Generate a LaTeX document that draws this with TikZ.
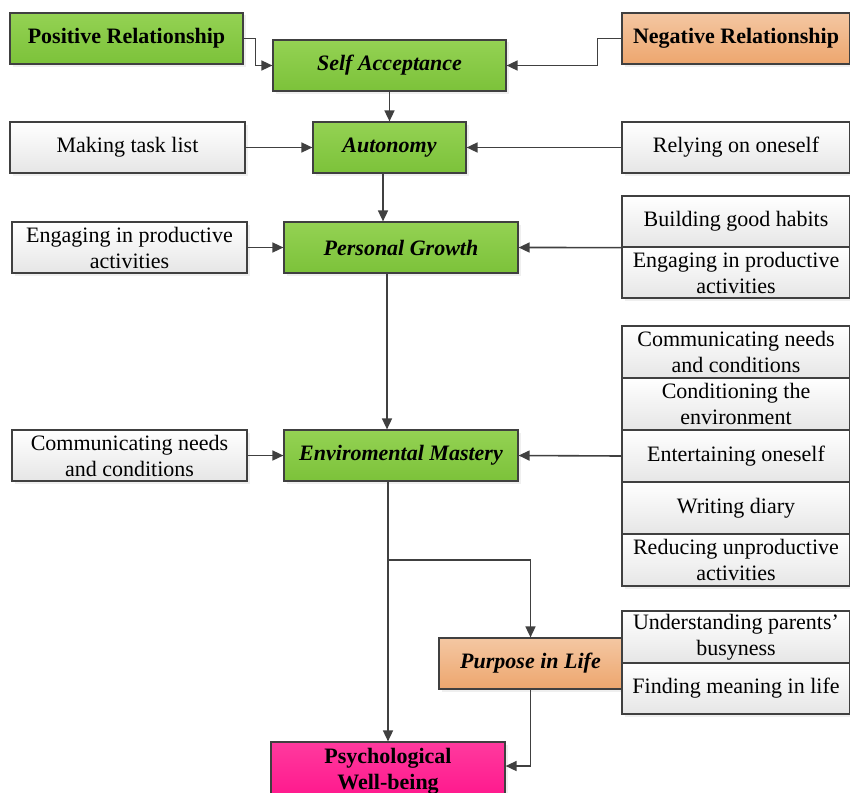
\documentclass[tikz,border=0pt]{standalone}
\usepackage{fontspec}
\setmainfont{Liberation Serif}
\usetikzlibrary{arrows.meta,shadows}

\definecolor{lineg}{HTML}{404040}
\definecolor{greenT}{HTML}{94D253}
\definecolor{greenB}{HTML}{7CC23A}
\definecolor{orT}{HTML}{F4C7A2}
\definecolor{orB}{HTML}{EDA66E}
\definecolor{pinkT}{HTML}{FF3A9E}
\definecolor{pinkB}{HTML}{FF168C}
\definecolor{grayB}{HTML}{E6E6E6}

\tikzset{
  box/.style={draw=lineg, line width=1.2pt, inner sep=2pt, align=center,
    font=\fontsize{22}{26}\selectfont,
    drop shadow={shadow xshift=2.5pt, shadow yshift=-2.5pt, fill=black!12}},
  gbox/.style={box, top color=greenT, bottom color=greenB},
  obox/.style={box, top color=orT, bottom color=orB},
  pbox/.style={box, top color=pinkT, bottom color=pinkB},
  wbox/.style={box, top color=white, bottom color=grayB},
  link/.style={draw=lineg, line width=1.6pt}
}

\begin{document}
\begin{tikzpicture}[x=1pt, y=-1pt, >={Triangle[length=11pt,width=10pt]}]
	\useasboundingbox (0,0) rectangle (850,792);
	
	% Các nút chính
	\node[gbox, minimum width=233pt, minimum height=51pt, font=\fontsize{22}{26}\selectfont\bfseries] (pos) at (126.5,38.5) {Positive Relationship};
	\node[gbox, minimum width=233pt, minimum height=51pt, font=\fontsize{22}{26}\selectfont\bfseries\itshape] (self) at (389.5,65.5) {Self Acceptance};
	\node[obox, minimum width=228pt, minimum height=51pt, font=\fontsize{22}{26}\selectfont\bfseries] (neg) at (736,38.5) {Negative Relationship};
	\node[gbox, minimum width=153pt, minimum height=51pt, font=\fontsize{22}{26}\selectfont\bfseries\itshape] (aut) at (389.5,147.5) {Autonomy};
	\node[gbox, minimum width=234pt, minimum height=51pt, font=\fontsize{22}{26}\selectfont\bfseries\itshape] (pg) at (401,247.5) {Personal Growth};
	\node[gbox, minimum width=234pt, minimum height=51pt, font=\fontsize{22}{26}\selectfont\bfseries\itshape] (em) at (401,455.5) {Enviromental Mastery};
	\node[obox, minimum width=183pt, minimum height=51pt, font=\fontsize{22}{26}\selectfont\bfseries\itshape] (pur) at (530.5,663.5) {Purpose in Life};
	\node[pbox, minimum width=234pt, minimum height=58pt, font=\fontsize{22}{26}\selectfont\bfseries] (pwb) at (388,771) {Psychological\\Well-being};
	
	% Các nút bên trái
	\node[wbox, minimum width=235pt, minimum height=51pt] (task) at (127.5,147.5) {Making task list};
	\node[wbox, minimum width=235pt, minimum height=51pt] (engL) at (129.5,247.5) {Engaging in productive\\activities};
	\node[wbox, minimum width=235pt, minimum height=51pt] (comL) at (129.5,455.5) {Communicating needs\\and conditions};
	
	% Các nút bên phải
	\node[wbox, minimum width=228pt, minimum height=51pt] (rely) at (736,147.5) {Relying on oneself};
	\node[wbox, minimum width=228pt, minimum height=51pt] (habit) at (736,221.5) {Building good habits};
	\node[wbox, minimum width=228pt, minimum height=51pt] (engR) at (736,272.5) {Engaging in productive\\activities};
	\node[wbox, minimum width=228pt, minimum height=52pt] (comR) at (736,352) {Communicating needs\\and conditions};
	\node[wbox, minimum width=228pt, minimum height=52pt] (cond) at (736,404) {Conditioning the\\environment};
	\node[wbox, minimum width=228pt, minimum height=52pt] (ent) at (736,456) {Entertaining oneself};
	\node[wbox, minimum width=228pt, minimum height=52pt] (diary) at (736,508) {Writing diary};
	\node[wbox, minimum width=228pt, minimum height=52pt] (red) at (736,560) {Reducing unproductive\\activities};
	\node[wbox, minimum width=228pt, minimum height=52pt] (und) at (736,637) {Understanding parents’\\busyness};
	\node[wbox, minimum width=228pt, minimum height=51pt] (mean) at (736,688.5) {Finding meaning in life};
	
	% Vẽ các mũi tên
	\draw[link, ->] (pos.east) -- ++(12,0) |- (self.west);
	\draw[link, ->] (neg.west) -- ++(-24,0) |- (self.east);
	\draw[link, ->] (self.south) -- (aut.north);
	\draw[link, ->] (task.east) -- (aut.west);
	\draw[link, ->] (rely.west) -- (aut.east);
	\draw[link, ->] ([xshift=-6.5pt]aut.south) -- ([xshift=-18pt]pg.north);
	\draw[link, ->] (engL.east) -- (pg.west);
	\draw[link, ->] (habit.south west) -- (pg.east);
	\draw[link, ->] ([xshift=-14pt]pg.south) -- ([xshift=-14pt]em.north);
	\draw[link, ->] (comL.east) -- (em.west);
	\draw[link, ->] (ent.west) -- (em.east);
	\coordinate (br) at (388,560);
	\draw[link, ->] ([xshift=-13pt]em.south) -- (pwb.north);
	\draw[link, ->] (br) -| (pur.north);
	\draw[link, ->] (pur.south) |- ([yshift=5pt]pwb.east);
\end{tikzpicture}
\end{document}
